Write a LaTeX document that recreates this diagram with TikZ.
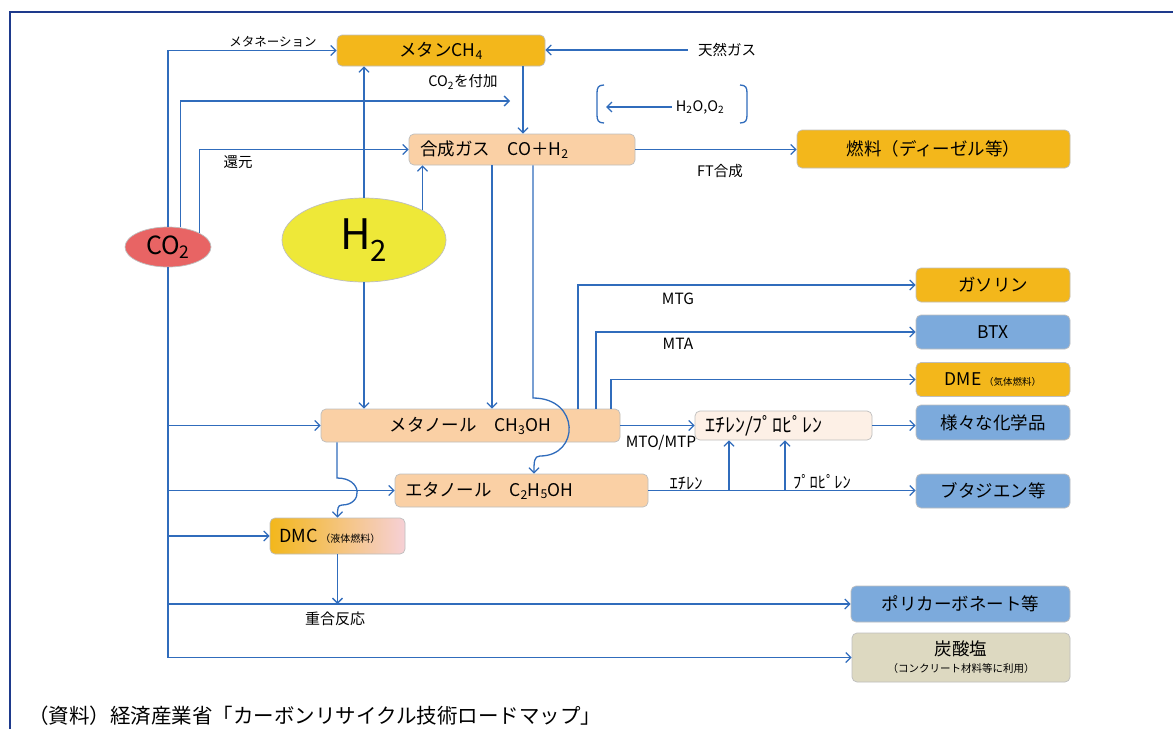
\documentclass[tikz,border=0pt]{standalone}
\usepackage{fontspec}
\setmainfont{Noto Sans CJK JP}
\usetikzlibrary{arrows.meta,shapes.geometric,calc}
\definecolor{lblue}{RGB}{48,108,188}
\definecolor{frameblue}{RGB}{30,58,140}
\definecolor{orangeF}{RGB}{243,183,27}
\definecolor{peachF}{RGB}{250,208,165}
\definecolor{blueF}{RGB}{124,170,220}
\definecolor{khakiF}{RGB}{221,217,193}
\definecolor{redF}{RGB}{232,100,100}
\definecolor{yellowF}{RGB}{238,232,56}
\definecolor{lightpeach}{RGB}{253,240,230}
\definecolor{pinkF}{RGB}{246,208,214}
\definecolor{borderG}{RGB}{190,190,190}
\begin{document}
\begin{tikzpicture}[x=1pt,y=-1pt,
  conn/.style={draw=lblue, line width=1.3pt},
  arr/.style={conn, -{Straight Barb[length=5pt,width=10pt]}},
  box/.style={draw=borderG, line width=0.7pt, rounded corners=5pt, inner sep=0pt, font=\fontsize{17.5}{20}\selectfont},
  lab/.style={font=\fontsize{14.5}{16}\selectfont, inner sep=0pt},
  labl/.style={font=\fontsize{15.5}{17}\selectfont, inner sep=0pt},
  labh/.style={font=\fontsize{16.5}{18}\selectfont, inner sep=0pt},
]
\useasboundingbox (0,0) rectangle (1173,729);
\fill[white] (0,0) rectangle (1173,729);
\draw[frameblue, line width=2.5pt] (10,729) -- (10,12) -- (1173,12);

% boxes
\node[box, fill=orangeF, minimum width=208pt, minimum height=31pt] (ch4) at (441,50.5) {メタンCH\textsubscript{4}};
\node[box, fill=peachF, minimum width=226pt, minimum height=31pt, text width=204pt, inner xsep=11pt, align=left] (syn) at (522,149.5) {合成ガス　CO＋H\textsubscript{2}};
\node[box, fill=orangeF, minimum width=273pt, minimum height=38pt] (fuel) at (933.5,149) {燃料（ディーゼル等）};
\node[box, fill=orangeF, minimum width=154pt, minimum height=34pt] (gas) at (993,285) {ガソリン};
\node[box, fill=blueF, minimum width=154pt, minimum height=34pt] (btx) at (993,332) {BTX};
\node[box, fill=orangeF, minimum width=154pt, minimum height=34pt] (dme) at (993,379.5) {DME\,{\fontsize{9.5}{11}\selectfont （気体燃料）}};
\node[box, fill=blueF, minimum width=154pt, minimum height=35pt] (chem) at (993,422.5) {様々な化学品};
\node[box, fill=blueF, minimum width=154pt, minimum height=34pt] (buta) at (993,491) {ブタジエン等};
\node[box, fill=blueF, minimum width=219pt, minimum height=36pt] (pc) at (960.5,604) {ポリカーボネート等};
\node[box, fill=khakiF, minimum width=218pt, minimum height=49pt, align=center] (carb) at (961,657.5) {炭酸塩\\[-3pt]{\fontsize{10.5}{12}\selectfont （コンクリート材料等に利用）}};
\node[box, fill=peachF, minimum width=299pt, minimum height=33pt] (meoh) at (470.5,425.5) {メタノール　CH\textsubscript{3}OH};
\node[box, fill=peachF, minimum width=253pt, minimum height=33pt, text width=233pt, inner xsep=10pt, align=left] (etoh) at (521.5,490.5) {エタノール　C\textsubscript{2}H\textsubscript{5}OH};
\node[box, left color=orangeF, right color=pinkF, minimum width=135pt, minimum height=36pt, text width=117pt, inner xsep=9pt, align=left] (dmc) at (337.5,536) {{\fontsize{18}{20}\selectfont DMC}\,{\fontsize{10}{12}\selectfont （液体燃料）}};
\node[box, fill=lightpeach, minimum width=177pt, minimum height=29pt, text width=157pt, inner xsep=10pt, align=left, font=\fontsize{20}{22}\selectfont] (olef) at (783.5,425.5) {ｴﾁﾚﾝ/ﾌﾟﾛﾋﾟﾚﾝ};

% ellipses
\node[ellipse, draw=borderG, line width=0.7pt, fill=redF, minimum width=86pt, minimum height=40pt, inner sep=0pt, font=\fontsize{25}{28}\selectfont] (co2) at (168,247) {CO\textsubscript{2}};
\node[ellipse, draw=borderG, line width=0.7pt, fill=yellowF, minimum width=164pt, minimum height=84pt, inner sep=0pt, font=\fontsize{42}{46}\selectfont] (h2) at (364,240) {H\textsubscript{2}};

% labels
\node[lab, font=\fontsize{12.5}{14}\selectfont] (lmeth) at (273,42) {メタネーション};
\node[lab] (lco2add) at (463,82) {CO\textsubscript{2}を付加};
\node[lab] (lred) at (238,162) {還元};
\node[lab] (ng) at (727,50) {天然ガス};
\node[lab] (lft) at (720,171) {FT合成};
\node[lab] (h2o) at (700,107) {H\textsubscript{2}O,O\textsubscript{2}};
\node[labl] (lmtg) at (678,299) {MTG};
\node[labl] (lmta) at (678,344) {MTA};
\node[labl] (lmto) at (661,443) {MTO/MTP};
\node[labh] (leth) at (686,483) {ｴﾁﾚﾝ};
\node[labh] (lprop) at (822,482) {ﾌﾟﾛﾋﾟﾚﾝ};
\node[lab, font=\fontsize{15}{17}\selectfont] (lpoly) at (335,619) {重合反応};
\node[anchor=west, inner sep=0pt, font=\fontsize{20.5}{24}\selectfont] (cap) at (28,716) {（資料）経済産業省「カーボンリサイクル技術ロードマップ」};

% coordinates
\coordinate (co2add) at (510,101);
\coordinate (h2oend) at (606,107);
\coordinate (e1) at (729,490.5);
\coordinate (e2) at (785,490.5);
\coordinate (s1) at ([xshift=-30pt]syn.south);
\coordinate (s2) at ([xshift=11pt]syn.south);
\coordinate (t2) at ([xshift=12.5pt]etoh.north);
\coordinate (m0) at ([xshift=-133.5pt]meoh.south);
\coordinate (m1) at ([xshift=107.5pt]meoh.north);
\coordinate (m2) at ([xshift=125.5pt]meoh.north);
\coordinate (m3) at ([xshift=140.5pt]meoh.north);
\coordinate (ngs) at ([xshift=-10pt]ng.west);
\coordinate (h2os) at ([xshift=-4pt]h2o.west);
\coordinate (c1) at ([xshift=82pt]ch4.south);
\coordinate (c2) at ([xshift=1pt]syn.north);

% connectors
\draw[arr] (co2.north) |- (ch4.west);
\draw[arr] (co2.58) |- (co2add);
\draw[arr] (co2.24) |- (syn.west);
\draw[arr] (ngs) -- (ngs -| ch4.east);
\draw[arr] (c1) -- (c2);
\draw[arr] (h2os) -- (h2oend);
\draw[conn] (604,85) .. controls (598,85) and (597,88) .. (597,93) -- (597,115) .. controls (597,120) and (598,123) .. (604,123);
\draw[conn] (740,85) .. controls (746,85) and (747,88) .. (747,93) -- (747,115) .. controls (747,120) and (746,123) .. (740,123);
\draw[arr] (syn.east) -- (syn.east -| fuel.west);
\draw[arr] (h2.north) -- (h2.north |- ch4.south);
\draw[arr] (h2.27) -- (h2.27 |- syn.south);
\draw[arr] (h2.south) -- (h2.south |- meoh.north);
\draw[arr] (s1) -- (s1 |- meoh.north);
\draw[arr] (s2) -- (533,398) .. controls (580,398) and (580,456) .. (540,456) .. controls (534,456) and (534,462) .. (t2);
\draw[arr] (m1) |- (gas.west);
\draw[arr] (m2) |- (btx.west);
\draw[arr] (m3) |- (dme.west);
\draw[arr] (meoh.east) -- (olef.west);
\draw[arr] (olef.east) -- (olef.east -| chem.west);
\draw[arr] (etoh.east) -- (etoh.east -| buta.west);
\draw[arr] (e1) -- (e1 |- olef.south);
\draw[arr] (e2) -- (e2 |- olef.south);
\draw[arr] (co2.south) |- (carb.west);
\draw[arr] (co2.south |- meoh.west) -- (meoh.west);
\draw[arr] (co2.south |- etoh.west) -- (etoh.west);
\draw[arr] (co2.south |- dmc.west) -- (dmc.west);
\draw[arr] (co2.south |- pc.west) -- (pc.west);
\draw[arr] (m0) -- (337,478) .. controls (363,478) and (363,505) .. (342,505) .. controls (337.5,505) and (337.5,509) .. (dmc.north);
\draw[arr] (dmc.south) -- (dmc.south |- pc.west);
\end{tikzpicture}
\end{document}
